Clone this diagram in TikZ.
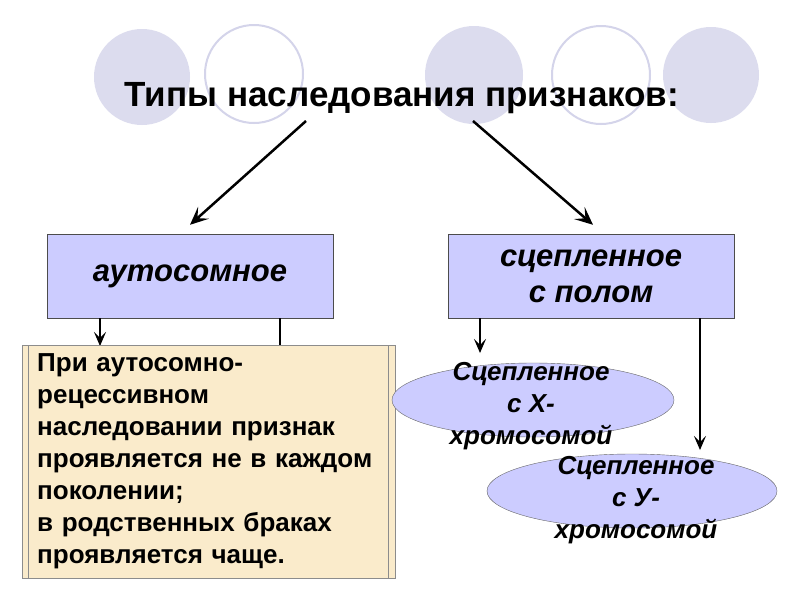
\documentclass[tikz,border=0pt]{standalone}
\usepackage{fontspec}
\setmainfont{Liberation Sans}
\usetikzlibrary{arrows.meta,shapes.geometric}
\definecolor{lila}{HTML}{CCCCFF}
\definecolor{disc}{HTML}{DCDCEE}
\definecolor{ring}{HTML}{D4D4EA}
\definecolor{paper}{HTML}{FAEBCB}
\tikzset{
 bluebox/.style={draw=black!70,fill=lila,minimum width=286pt,minimum height=84pt,
   align=center,font=\fontsize{31}{36}\selectfont\bfseries\itshape},
 oval/.style={ellipse,draw=black!60,fill=lila,minimum width=282pt,minimum height=74pt},
 ovaltext/.style={align=center,inner sep=0pt,font=\fontsize{26}{32}\selectfont\bfseries\itshape},
 notebox/.style={draw=black!45,fill=paper,minimum width=373pt,minimum height=233pt,
   inner xsep=15pt,text width=343pt,align=left,font=\fontsize{26}{32}\selectfont\bfseries},
 arr/.style={line width=1.5pt,-{Stealth[length=14pt,width=12pt,inset=6pt]}},
 bigarr/.style={line width=2.5pt,-{Stealth[length=18pt,width=16pt,inset=8pt]}}
}
\begin{document}
\begin{tikzpicture}[x=1pt,y=-1pt]
 \useasboundingbox[fill=white] (0,0) rectangle (800,600);
 % circles behind the title
 \fill[disc] (142,77) circle (48);
 \draw[ring,line width=2pt] (254,74) circle (49);
 \fill[disc] (474,75) circle (49);
 \draw[ring,line width=2pt] (601,75) circle (49);
 \fill[disc] (711,75) circle (48);
 \node[anchor=base,font=\fontsize{35}{40}\selectfont\bfseries] (title) at (402,106) {Типы наследования признаков:};
 % two kinds
 \node[bluebox] (aut) at (190,276) {аутосомное};
 \node[bluebox] (sex) at (591,276) {сцепленное\\с полом};
 \coordinate (tl) at (306,121);
 \coordinate (tr) at (473,121);
 \draw[bigarr] (tl) -- ([yshift=9pt]aut.north);
 \draw[bigarr] (tr) -- ([yshift=9pt,xshift=2pt]sex.north);
 % autosomal branch
 \coordinate (na) at (100,346);
 \coordinate (nb) at (280,346);
 \draw[arr] (aut.south -| na) -- (na);
 \draw[line width=1.5pt] (aut.south -| nb) -- (nb);
 \node[notebox,anchor=north west] (note) at (22,345) {При аутосомно-\\рецессивном\\наследовании признак\\проявляется не в каждом\\поколении;\\в родственных браках\\проявляется чаще.};
 \draw[black!45] ([xshift=6pt]note.north west) -- ([xshift=6pt]note.south west);
 \draw[black!45] ([xshift=-7pt]note.north east) -- ([xshift=-7pt]note.south east);
 % sex-linked branch
 \node[oval] (ovx) at (533,400) {};
 \node[oval,minimum width=290pt] (ovy) at (632,491) {};
 \node[ovaltext] (ovxt) at (531,406) {Сцепленное\\с Х-\\хромосомой};
 \node[ovaltext] (ovyt) at (636,500) {Сцепленное\\с У-\\хромосомой};
 \coordinate (xa) at (480,353);
 \coordinate (ya) at (700,450);
 \draw[arr] (sex.south -| xa) -- (xa);
 \draw[arr] (sex.south -| ya) -- (ya);
\end{tikzpicture}
\end{document}
